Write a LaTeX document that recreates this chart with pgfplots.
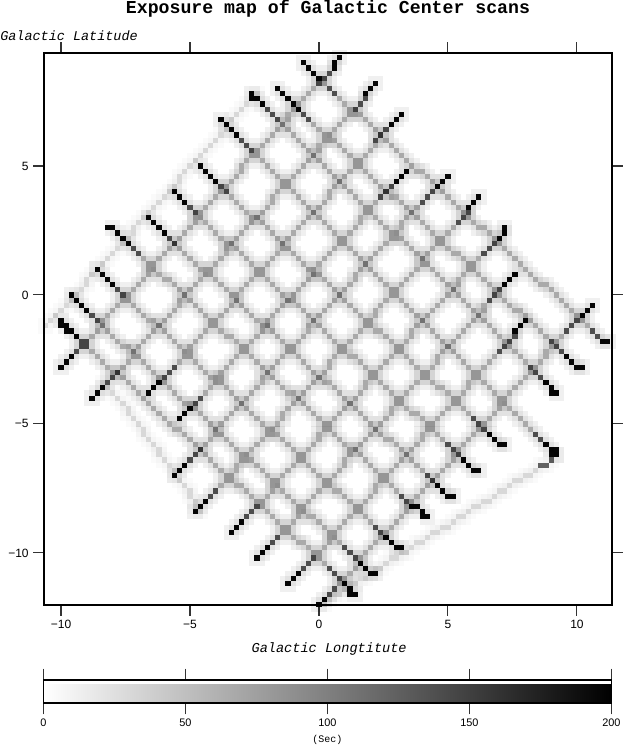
\documentclass[border=0pt]{standalone}
\usepackage{fontspec}
\setmainfont{Liberation Mono}
\newfontfamily\ticksf{Liberation Sans}
\usepackage{pgfplots}
\usepackage{pgfplotstable}
\pgfplotsset{compat=1.18}

% cell indices i,j: longitude = 0.2*i, latitude = 0.2*j
% NE-SW scans and NW-SE scans, one scan per line
\pgfplotstableread[row sep=\\]{i j\\
-50 -14\\-49 -13\\-48 -12\\-47 -11\\-46 -10\\-45 -9\\-44 -8\\-43 -7\\-42 -6\\-42 -5\\-41 -4\\-40 -3\\-39 -2\\-38 -1\\-37 0\\-36 1\\-35 2\\-34 3\\-33 4\\-33 5\\-32 6\\-31 7\\-30 8\\-29 9\\-28 10\\-27 11\\-26 12\\-25 13\\-24 14\\-24 15\\-23 16\\-22 17\\-21 18\\-20 19\\-19 20\\-18 21\\-17 22\\-16 23\\-15 24\\-15 25\\-14 26\\-13 27\\-12 28\\-11 29\\-10 30\\-9 31\\-8 32\\-7 33\\-6 34\\-6 35\\-5 36\\-4 37\\-3 38\\-2 39\\-1 40\\0 41\\1 42\\2 43\\3 44\\3 45\\4 46\\
-44 -20\\-43 -19\\-42 -18\\-41 -17\\-40 -16\\-39 -15\\-38 -14\\-37 -13\\-36 -12\\-36 -11\\-35 -10\\-34 -9\\-33 -8\\-32 -7\\-31 -6\\-30 -5\\-29 -4\\-28 -3\\-27 -2\\-27 -1\\-26 0\\-25 1\\-24 2\\-23 3\\-22 4\\-21 5\\-20 6\\-19 7\\-18 8\\-18 9\\-17 10\\-16 11\\-15 12\\-14 13\\-13 14\\-12 15\\-11 16\\-10 17\\-9 18\\-9 19\\-8 20\\-7 21\\-6 22\\-5 23\\-4 24\\-3 25\\-2 26\\-1 27\\0 28\\0 29\\1 30\\2 31\\3 32\\4 33\\5 34\\6 35\\7 36\\8 37\\9 38\\9 39\\10 40\\11 41\\
-33 -19\\-32 -18\\-31 -17\\-30 -16\\-29 -15\\-28 -14\\-27 -13\\-26 -12\\-25 -11\\-25 -10\\-24 -9\\-23 -8\\-22 -7\\-21 -6\\-20 -5\\-19 -4\\-18 -3\\-17 -2\\-16 -1\\-16 0\\-15 1\\-14 2\\-13 3\\-12 4\\-11 5\\-10 6\\-9 7\\-8 8\\-7 9\\-7 10\\-6 11\\-5 12\\-4 13\\-3 14\\-2 15\\-1 16\\0 17\\1 18\\2 19\\2 20\\3 21\\4 22\\5 23\\6 24\\7 25\\8 26\\9 27\\10 28\\11 29\\11 30\\12 31\\13 32\\14 33\\15 34\\16 35\\
-27 -24\\-26 -23\\-25 -22\\-24 -21\\-23 -20\\-22 -19\\-21 -18\\-20 -17\\-19 -16\\-19 -15\\-18 -14\\-17 -13\\-16 -12\\-15 -11\\-14 -10\\-13 -9\\-12 -8\\-11 -7\\-10 -6\\-10 -5\\-9 -4\\-8 -3\\-7 -2\\-6 -1\\-5 0\\-4 1\\-3 2\\-2 3\\-1 4\\-1 5\\0 6\\1 7\\2 8\\3 9\\4 10\\5 11\\6 12\\7 13\\8 14\\8 15\\9 16\\10 17\\11 18\\12 19\\13 20\\14 21\\15 22\\16 23\\17 24\\
-28 -35\\-27 -34\\-26 -33\\-25 -32\\-24 -31\\-23 -30\\-22 -29\\-21 -28\\-20 -27\\-20 -26\\-19 -25\\-18 -24\\-17 -23\\-16 -22\\-15 -21\\-14 -20\\-13 -19\\-12 -18\\-11 -17\\-11 -16\\-10 -15\\-9 -14\\-8 -13\\-7 -12\\-6 -11\\-5 -10\\-4 -9\\-3 -8\\-2 -7\\-2 -6\\-1 -5\\0 -4\\1 -3\\2 -2\\3 -1\\4 0\\5 1\\6 2\\7 3\\7 4\\8 5\\9 6\\10 7\\11 8\\12 9\\13 10\\14 11\\15 12\\16 13\\16 14\\17 15\\18 16\\19 17\\20 18\\21 19\\22 20\\23 21\\24 22\\25 23\\
-24 -42\\-23 -41\\-22 -40\\-21 -39\\-20 -38\\-19 -37\\-18 -36\\-17 -35\\-16 -34\\-16 -33\\-15 -32\\-14 -31\\-13 -30\\-12 -29\\-11 -28\\-10 -27\\-9 -26\\-8 -25\\-7 -24\\-7 -23\\-6 -22\\-5 -21\\-4 -20\\-3 -19\\-2 -18\\-1 -17\\0 -16\\1 -15\\2 -14\\2 -13\\3 -12\\4 -11\\5 -10\\6 -9\\7 -8\\8 -7\\9 -6\\10 -5\\11 -4\\11 -3\\12 -2\\13 -1\\14 0\\15 1\\16 2\\17 3\\18 4\\19 5\\20 6\\20 7\\21 8\\22 9\\23 10\\24 11\\25 12\\26 13\\27 14\\28 15\\29 16\\29 17\\30 18\\31 19\\
-17 -46\\-16 -45\\-15 -44\\-14 -43\\-13 -42\\-12 -41\\-11 -40\\-10 -39\\-9 -38\\-9 -37\\-8 -36\\-7 -35\\-6 -34\\-5 -33\\-4 -32\\-3 -31\\-2 -30\\-1 -29\\0 -28\\0 -27\\1 -26\\2 -25\\3 -24\\4 -23\\5 -22\\6 -21\\7 -20\\8 -19\\9 -18\\9 -17\\10 -16\\11 -15\\12 -14\\13 -13\\14 -12\\15 -11\\16 -10\\17 -9\\18 -8\\18 -7\\19 -6\\20 -5\\21 -4\\22 -3\\23 -2\\24 -1\\25 0\\26 1\\27 2\\27 3\\28 4\\29 5\\30 6\\31 7\\32 8\\33 9\\34 10\\35 11\\36 12\\36 13\\
-12 -51\\-11 -50\\-10 -49\\-9 -48\\-8 -47\\-7 -46\\-6 -45\\-5 -44\\-4 -43\\-4 -42\\-3 -41\\-2 -40\\-1 -39\\0 -38\\1 -37\\2 -36\\3 -35\\4 -34\\5 -33\\5 -32\\6 -31\\7 -30\\8 -29\\9 -28\\10 -27\\11 -26\\12 -25\\13 -24\\14 -23\\14 -22\\15 -21\\16 -20\\17 -19\\18 -18\\19 -17\\20 -16\\21 -15\\22 -14\\23 -13\\23 -12\\24 -11\\25 -10\\26 -9\\27 -8\\28 -7\\29 -6\\30 -5\\31 -4\\32 -3\\32 -2\\33 -1\\34 0\\35 1\\36 2\\37 3\\38 4\\
-6 -56\\-5 -55\\-4 -54\\-3 -53\\-2 -52\\-1 -51\\0 -50\\1 -49\\2 -48\\2 -47\\3 -46\\4 -45\\5 -44\\6 -43\\7 -42\\8 -41\\9 -40\\10 -39\\11 -38\\11 -37\\12 -36\\13 -35\\14 -34\\15 -33\\16 -32\\17 -31\\18 -30\\19 -29\\20 -28\\20 -27\\21 -26\\22 -25\\23 -24\\24 -23\\25 -22\\26 -21\\27 -20\\28 -19\\29 -18\\29 -17\\30 -16\\31 -15\\32 -14\\33 -13\\34 -12\\35 -11\\36 -10\\37 -9\\38 -8\\38 -7\\39 -6\\40 -5\\
0 -60\\1 -59\\2 -58\\3 -57\\4 -56\\5 -55\\6 -54\\7 -53\\8 -52\\8 -51\\9 -50\\10 -49\\11 -48\\12 -47\\13 -46\\14 -45\\15 -44\\16 -43\\17 -42\\17 -41\\18 -40\\19 -39\\20 -38\\21 -37\\22 -36\\23 -35\\24 -34\\25 -33\\26 -32\\26 -31\\27 -30\\28 -29\\29 -28\\30 -27\\31 -26\\32 -25\\33 -24\\34 -23\\35 -22\\35 -21\\36 -20\\37 -19\\38 -18\\39 -17\\40 -16\\41 -15\\42 -14\\43 -13\\44 -12\\44 -11\\45 -10\\46 -9\\47 -8\\48 -7\\49 -6\\50 -5\\51 -4\\52 -3\\53 -2\\
-3 45\\-2 44\\-1 43\\0 42\\1 41\\2 40\\3 39\\4 38\\5 37\\6 36\\7 35\\8 35\\9 34\\10 33\\11 32\\12 31\\13 30\\14 29\\15 28\\16 27\\17 26\\18 25\\19 24\\20 24\\21 23\\22 22\\23 21\\24 20\\25 19\\26 18\\27 17\\28 16\\29 15\\30 14\\31 13\\32 13\\33 12\\34 11\\35 10\\36 9\\37 8\\38 7\\39 6\\40 5\\41 4\\42 3\\43 2\\44 2\\45 1\\46 0\\47 -1\\48 -2\\49 -3\\50 -4\\51 -5\\52 -6\\53 -7\\54 -8\\55 -9\\56 -9\\
-8 40\\-7 39\\-6 38\\-5 37\\-4 36\\-3 35\\-2 34\\-1 33\\0 32\\1 31\\2 30\\3 30\\4 29\\5 28\\6 27\\7 26\\8 25\\9 24\\10 23\\11 22\\12 21\\13 20\\14 19\\15 19\\16 18\\17 17\\18 16\\19 15\\20 14\\21 13\\22 12\\23 11\\24 10\\25 9\\26 8\\27 8\\28 7\\29 6\\30 5\\31 4\\32 3\\33 2\\34 1\\35 0\\36 -1\\37 -2\\38 -3\\39 -3\\40 -4\\41 -5\\42 -6\\43 -7\\44 -8\\45 -9\\46 -10\\47 -11\\48 -12\\49 -13\\50 -14\\51 -14\\
-13 39\\-12 38\\-11 37\\-10 36\\-9 35\\-8 34\\-7 33\\-6 32\\-5 31\\-4 30\\-3 29\\-2 28\\-1 27\\0 26\\1 25\\2 24\\3 23\\4 22\\5 21\\6 20\\7 19\\8 18\\9 17\\10 16\\11 15\\12 14\\13 13\\14 12\\15 11\\16 11\\17 10\\18 9\\19 8\\20 7\\21 6\\22 5\\23 4\\24 3\\25 2\\26 1\\27 0\\28 -1\\29 -2\\30 -3\\31 -4\\32 -5\\33 -6\\34 -7\\35 -8\\36 -9\\37 -10\\38 -11\\39 -12\\40 -13\\41 -14\\42 -15\\43 -16\\44 -17\\45 -18\\46 -19\\
-19 34\\-18 33\\-17 32\\-16 31\\-15 30\\-14 29\\-13 28\\-12 27\\-11 26\\-10 25\\-9 24\\-8 23\\-7 22\\-6 21\\-5 20\\-4 19\\-3 18\\-2 17\\-1 16\\0 15\\1 14\\2 13\\3 12\\4 11\\5 10\\6 9\\7 8\\8 7\\9 6\\10 5\\11 4\\12 3\\13 2\\14 1\\15 0\\16 -1\\17 -2\\18 -3\\19 -4\\20 -5\\21 -6\\22 -7\\23 -8\\24 -9\\25 -10\\26 -11\\27 -12\\28 -13\\29 -14\\30 -15\\31 -16\\32 -17\\33 -18\\34 -19\\35 -20\\36 -21\\37 -22\\38 -23\\39 -24\\40 -25\\41 -26\\42 -27\\43 -28\\44 -29\\45 -30\\46 -31\\
-23 25\\-22 24\\-21 23\\-20 22\\-19 21\\-18 20\\-17 19\\-16 18\\-15 17\\-14 16\\-13 15\\-12 15\\-11 14\\-10 13\\-9 12\\-8 11\\-7 10\\-6 9\\-5 8\\-4 7\\-3 6\\-2 5\\-1 4\\0 4\\1 3\\2 2\\3 1\\4 0\\5 -1\\6 -2\\7 -3\\8 -4\\9 -5\\10 -6\\11 -7\\12 -7\\13 -8\\14 -9\\15 -10\\16 -11\\17 -12\\18 -13\\19 -14\\20 -15\\21 -16\\22 -17\\23 -18\\24 -18\\25 -19\\26 -20\\27 -21\\28 -22\\29 -23\\30 -24\\31 -25\\32 -26\\33 -27\\34 -28\\35 -29\\36 -29\\
-28 20\\-27 19\\-26 18\\-25 17\\-24 16\\-23 15\\-22 14\\-21 13\\-20 12\\-19 11\\-18 10\\-17 10\\-16 9\\-15 8\\-14 7\\-13 6\\-12 5\\-11 4\\-10 3\\-9 2\\-8 1\\-7 0\\-6 -1\\-5 -1\\-4 -2\\-3 -3\\-2 -4\\-1 -5\\0 -6\\1 -7\\2 -8\\3 -9\\4 -10\\5 -11\\6 -12\\7 -12\\8 -13\\9 -14\\10 -15\\11 -16\\12 -17\\13 -18\\14 -19\\15 -20\\16 -21\\17 -22\\18 -23\\19 -23\\20 -24\\21 -25\\22 -26\\23 -27\\24 -28\\25 -29\\26 -30\\27 -31\\28 -32\\29 -33\\30 -34\\31 -34\\
-33 15\\-32 14\\-31 13\\-30 12\\-29 11\\-28 10\\-27 9\\-26 8\\-25 7\\-24 6\\-23 5\\-22 5\\-21 4\\-20 3\\-19 2\\-18 1\\-17 0\\-16 -1\\-15 -2\\-14 -3\\-13 -4\\-12 -5\\-11 -6\\-10 -6\\-9 -7\\-8 -8\\-7 -9\\-6 -10\\-5 -11\\-4 -12\\-3 -13\\-2 -14\\-1 -15\\0 -16\\1 -17\\2 -17\\3 -18\\4 -19\\5 -20\\6 -21\\7 -22\\8 -23\\9 -24\\10 -25\\11 -26\\12 -27\\13 -28\\14 -28\\15 -29\\16 -30\\17 -31\\18 -32\\19 -33\\20 -34\\21 -35\\22 -36\\23 -37\\24 -38\\25 -39\\26 -39\\
-40 13\\-39 12\\-38 11\\-37 10\\-36 9\\-35 8\\-34 7\\-33 6\\-32 5\\-31 4\\-30 3\\-29 3\\-28 2\\-27 1\\-26 0\\-25 -1\\-24 -2\\-23 -3\\-22 -4\\-21 -5\\-20 -6\\-19 -7\\-18 -8\\-17 -8\\-16 -9\\-15 -10\\-14 -11\\-13 -12\\-12 -13\\-11 -14\\-10 -15\\-9 -16\\-8 -17\\-7 -18\\-6 -19\\-5 -19\\-4 -20\\-3 -21\\-2 -22\\-1 -23\\0 -24\\1 -25\\2 -26\\3 -27\\4 -28\\5 -29\\6 -30\\7 -30\\8 -31\\9 -32\\10 -33\\11 -34\\12 -35\\13 -36\\14 -37\\15 -38\\16 -39\\17 -40\\18 -41\\19 -41\\20 -42\\21 -43\\
-43 5\\-42 4\\-41 3\\-40 2\\-39 1\\-38 0\\-37 -1\\-36 -2\\-35 -3\\-34 -4\\-33 -5\\-32 -5\\-31 -6\\-30 -7\\-29 -8\\-28 -9\\-27 -10\\-26 -11\\-25 -12\\-24 -13\\-23 -14\\-22 -15\\-21 -16\\-20 -16\\-19 -17\\-18 -18\\-17 -19\\-16 -20\\-15 -21\\-14 -22\\-13 -23\\-12 -24\\-11 -25\\-10 -26\\-9 -27\\-8 -27\\-7 -28\\-6 -29\\-5 -30\\-4 -31\\-3 -32\\-2 -33\\-1 -34\\0 -35\\1 -36\\2 -37\\3 -38\\4 -38\\5 -39\\6 -40\\7 -41\\8 -42\\9 -43\\10 -44\\11 -45\\12 -46\\13 -47\\14 -48\\15 -49\\16 -49\\
-48 0\\-47 -1\\-46 -2\\-45 -3\\-44 -4\\-43 -5\\-42 -6\\-41 -7\\-40 -8\\-39 -9\\-38 -10\\-37 -10\\-36 -11\\-35 -12\\-34 -13\\-33 -14\\-32 -15\\-31 -16\\-30 -17\\-29 -18\\-28 -19\\-27 -20\\-26 -21\\-25 -21\\-24 -22\\-23 -23\\-22 -24\\-21 -25\\-20 -26\\-19 -27\\-18 -28\\-17 -29\\-16 -30\\-15 -31\\-14 -32\\-13 -32\\-12 -33\\-11 -34\\-10 -35\\-9 -36\\-8 -37\\-7 -38\\-6 -39\\-5 -40\\-4 -41\\-3 -42\\-2 -43\\-1 -43\\0 -44\\1 -45\\2 -46\\3 -47\\4 -48\\5 -49\\6 -50\\7 -51\\8 -52\\9 -53\\10 -54\\11 -54\\
-50 -5\\-49 -6\\-48 -7\\-47 -8\\-46 -9\\-45 -10\\-44 -11\\-43 -12\\-42 -13\\-41 -14\\-40 -15\\-39 -15\\-38 -16\\-37 -17\\-36 -18\\-35 -19\\-34 -20\\-33 -21\\-32 -22\\-31 -23\\-30 -24\\-29 -25\\-28 -26\\-27 -26\\-26 -27\\-25 -28\\-24 -29\\-23 -30\\-22 -31\\-21 -32\\-20 -33\\-19 -34\\-18 -35\\-17 -36\\-16 -37\\-15 -37\\-14 -38\\-13 -39\\-12 -40\\-11 -41\\-10 -42\\-9 -43\\-8 -44\\-7 -45\\-6 -46\\-5 -47\\-4 -48\\-3 -48\\-2 -49\\-1 -50\\0 -51\\1 -52\\2 -53\\3 -54\\4 -55\\5 -56\\6 -57\\7 -58\\
}\scancells

% weak edge scans: upper-left edge, lower-left edge, slew at lower right
\pgfplotstableread[row sep=\\]{i j\\
-53 -6\\-52 -5\\-51 -4\\-50 -3\\-49 -2\\-48 -1\\-47 0\\-46 1\\-45 2\\-45 3\\-44 4\\-43 5\\-42 6\\-41 7\\-40 8\\-39 9\\-38 10\\-37 11\\-36 12\\-36 13\\-35 14\\-34 15\\-33 16\\-32 17\\-31 18\\-30 19\\-29 20\\-28 21\\-27 22\\-27 23\\-26 24\\-25 25\\-24 26\\-23 27\\-22 28\\-21 29\\-20 30\\-19 31\\-18 32\\-18 33\\-17 34\\-16 35\\-15 36\\-14 37\\-13 38\\-12 39\\
-42 -17\\-41 -18\\-40 -19\\-39 -20\\-38 -21\\-37 -22\\-37 -23\\-36 -24\\-35 -25\\-34 -26\\-34 -27\\-33 -28\\-32 -29\\-31 -30\\-31 -31\\-30 -32\\-29 -33\\-28 -34\\-28 -35\\-27 -36\\-26 -37\\-25 -38\\-25 -39\\-24 -40\\-24 -41\\-23 -42\\
46 -31\\45 -32\\44 -33\\43 -33\\42 -34\\41 -35\\40 -35\\39 -36\\38 -36\\37 -37\\36 -38\\35 -38\\34 -39\\33 -40\\32 -40\\31 -41\\30 -41\\29 -42\\28 -43\\27 -43\\26 -44\\25 -45\\24 -45\\23 -46\\22 -46\\21 -47\\20 -48\\19 -48\\18 -49\\17 -50\\16 -50\\15 -51\\14 -51\\13 -52\\12 -53\\11 -53\\10 -54\\9 -55\\8 -55\\7 -56\\6 -56\\5 -57\\4 -58\\3 -58\\2 -59\\1 -60\\
}\edgecells

% saturated cells at the turning points of the scans
\pgfplotstableread[row sep=\\]{i j\\
-50 -14\\-49 -13\\-48 -12\\4 46\\3 45\\3 44\\-44 -20\\-43 -19\\-42 -18\\11 41\\10 40\\9 39\\-33 -19\\-32 -18\\-31 -17\\16 35\\15 34\\14 33\\
-27 -24\\-26 -23\\-25 -22\\17 24\\16 23\\15 22\\-28 -35\\-27 -34\\-26 -33\\25 23\\24 22\\23 21\\-24 -42\\-23 -41\\-22 -40\\31 19\\30 18\\29 17\\
-17 -46\\-16 -45\\-15 -44\\36 13\\36 12\\35 11\\-12 -51\\-11 -50\\-10 -49\\38 4\\37 3\\36 2\\-6 -56\\-5 -55\\-4 -54\\40 -5\\39 -6\\38 -7\\0 -60\\1 -59\\53 -2\\52 -3\\51 -4\\
-3 45\\-2 44\\-1 43\\0 42\\56 -9\\55 -9\\-8 40\\-7 39\\-6 38\\-5 37\\-4 36\\51 -14\\50 -14\\49 -13\\48 -12\\
-13 39\\-12 38\\-11 37\\-13 38\\46 -19\\45 -19\\45 -18\\44 -17\\-19 34\\-18 33\\-17 32\\-16 31\\46 -31\\45 -30\\46 -30\\45 -31\\44 -29\\
-23 25\\-22 24\\-21 23\\-20 22\\36 -29\\35 -29\\34 -28\\33 -27\\-28 20\\-27 19\\-26 18\\31 -34\\30 -34\\29 -33\\28 -32\\
-33 15\\-32 14\\-31 13\\-30 12\\26 -39\\25 -39\\24 -38\\23 -37\\-41 13\\-40 13\\-39 12\\-38 11\\-37 10\\21 -43\\20 -43\\20 -42\\19 -41\\18 -41\\
-43 5\\-42 4\\-41 3\\-40 2\\16 -49\\15 -49\\14 -48\\13 -47\\-48 0\\-47 -1\\-46 -2\\-45 -3\\11 -54\\10 -54\\9 -53\\8 -52\\
-50 -5\\-50 -6\\-49 -6\\-49 -7\\-48 -7\\-47 -8\\7 -58\\6 -58\\6 -57\\5 -56\\
}\endcells

% dark cells next to the saturated ones
\pgfplotstableread[row sep=\\]{i j\\
-47 -11\\-46 -10\\-45 -9\\2 43\\1 42\\0 41\\-41 -17\\-40 -16\\-39 -15\\9 38\\8 37\\7 36\\-30 -16\\-29 -15\\-28 -14\\13 32\\12 31\\11 30\\
-24 -21\\-23 -20\\14 21\\13 20\\12 19\\-25 -32\\-24 -31\\-23 -30\\22 20\\21 19\\20 18\\-21 -39\\-20 -38\\29 16\\28 15\\27 14\\
-14 -43\\-13 -42\\-12 -41\\34 10\\33 9\\32 8\\-9 -48\\-8 -47\\35 1\\34 0\\33 -1\\-3 -53\\-2 -52\\-1 -51\\38 -8\\37 -9\\36 -10\\35 -11\\2 -58\\3 -57\\50 -5\\49 -6\\48 -7\\
2 40\\3 39\\54 -8\\53 -7\\-3 35\\-2 34\\47 -11\\46 -10\\45 -9\\-10 36\\-9 35\\-8 34\\43 -16\\42 -15\\41 -14\\-15 30\\-14 29\\-13 28\\43 -28\\42 -27\\
-19 21\\-18 20\\32 -26\\31 -25\\30 -24\\-25 17\\-24 16\\27 -31\\26 -30\\25 -29\\-29 11\\-28 10\\22 -36\\21 -35\\-36 9\\-35 8\\17 -40\\16 -39\\
-39 1\\-38 0\\12 -46\\11 -45\\-44 -4\\-43 -5\\7 -51\\6 -50\\5 -49\\-46 -9\\-45 -10\\4 -55\\3 -54\\2 -53\\
45 -32\\44 -33\\43 -33\\
}\darkcells

\pgfplotsset{
    cell/.style={only marks, mark=square*, mark size=1.935pt,
        mark options={draw opacity=0, fill=black, fill opacity=#1}, forget plot},
    halo/.style={only marks, mark=square*, mark size=5.805pt,
        mark options={draw opacity=0, fill=black, fill opacity=#1}, forget plot},
    /pgfplots/table/cellxy/.style={/pgfplots/table/x expr=0.2*\thisrow{i}, /pgfplots/table/y expr=0.2*\thisrow{j}},
}

\begin{document}
\begin{tikzpicture}
    \useasboundingbox (-33pt,-105.75pt) rectangle (435pt,453.75pt);
    \begin{axis}[
        scale only axis,
        width=426pt, height=414pt,
        xmin=-10.66, xmax=11.36,
        ymin=-12.02, ymax=9.38,
        xtick={-10,-5,0,5,10},
        xticklabels={−10,−5,0,5,10},
        ytick={-10,-5,0,5},
        yticklabels={−10,−5,0,5},
        tick align=outside,
        major tick length=8pt,
        tick style={black!80, line width=0.8pt},
        axis line style={line width=0.9pt},
        tick label style={font=\ticksf\fontsize{9}{10}\selectfont},
        xticklabel pos=lower,
        yticklabel pos=left,
        title={Exposure map of Galactic Center scans},
        title style={font=\bfseries\fontsize{13.65}{15}\selectfont, at={(0.5,1.0655)}, anchor=center},
        xlabel={Galactic Longtitute},
        xlabel style={font=\itshape\fontsize{10.2}{12}\selectfont, at={(0.502,-0.08)}, anchor=center},
        ylabel={Galactic Latitude},
        ylabel style={font=\itshape\fontsize{10.1}{12}\selectfont, rotate=-90, at={(0.044,1.031)}, anchor=center},
        colormap={bw}{color=(white) color=(black)},
        point meta min=0, point meta max=200,
        colorbar horizontal,
        colorbar style={
            at={(-0.001,-0.1359)}, anchor=north west,
            width=426pt, height=17.25pt,
            xtick={0,50,100,150,200},
            xticklabels={0,50,100,150,200},
            tick align=outside,
            major tick length=8.5pt,
            xtick pos=both,
            xticklabel pos=lower,
            tick label style={font=\ticksf\fontsize{8.2}{10}\selectfont},
            xlabel={(Sec)},
            xlabel style={font=\fontsize{7.5}{9}\selectfont, at={(0.5,-1.6)}, anchor=center},
            axis line style={line width=0.9pt},
        },
    ]
        \addplot[halo=0.06] table[cellxy] \scancells;
        \addplot[halo=0.02] table[cellxy] \edgecells;
        \addplot[cell=0.2] table[cellxy] \scancells;
        \addplot[cell=0.1] table[cellxy] \edgecells;
        \addplot[cell=0.55] table[cellxy] \darkcells;
        \addplot[cell=0.97] table[cellxy] \endcells;
    \end{axis}
\end{tikzpicture}
\end{document}
